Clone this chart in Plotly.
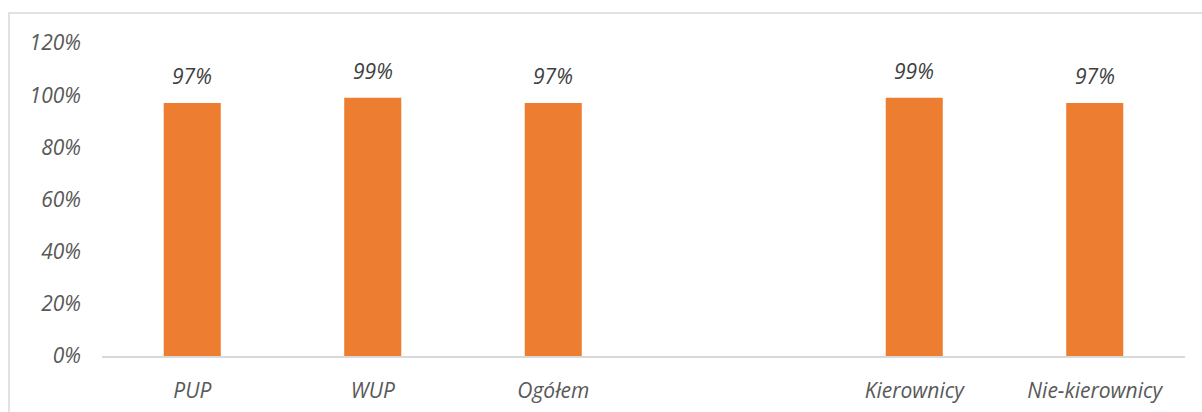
import plotly.graph_objects as go

categories = ["PUP", "WUP", "Ogółem", " ", "Kierownicy", "Nie-kierownicy"]
values = [0.97, 0.99, 0.97, None, 0.99, 0.97]
tick_vals = [0, 0.2, 0.4, 0.6, 0.8, 1.0, 1.2]

FONT = "Open Sans"
BAR = "#ED7D31"

fig = go.Figure()
fig.add_trace(go.Bar(x=categories, y=values, marker=dict(color=BAR, line=dict(width=0)),
                     hoverinfo="skip"))

for c, v in zip(categories, values):
    if v is None:
        continue
    fig.add_annotation(x=c, y=v, text=f"<i>{round(v*100)}%</i>", showarrow=False,
                       yanchor="bottom", yshift=11,
                       font=dict(family=FONT, size=21, color="#404040"))

fig.update_layout(
    width=1202, height=412,
    margin=dict(l=102, r=17, t=43, b=56, autoexpand=False),
    plot_bgcolor="white", paper_bgcolor="white",
    bargap=0.684,
    showlegend=False,
    font=dict(family=FONT, size=21, color="#595959"),
    xaxis=dict(type="category", categoryorder="array", categoryarray=categories,
               showline=True, linecolor="#D9D9D9", linewidth=2,
               showgrid=False, ticks="", zeroline=False, automargin=False,
               tickfont=dict(family=FONT, size=21, color="#595959", style="italic"),
               ticklabelstandoff=15),
    yaxis=dict(range=[0, 1.2], tickvals=tick_vals, tickformat=".0%",
               showgrid=False, zeroline=False, showline=False, ticks="", automargin=False,
               tickfont=dict(family=FONT, size=21, color="#595959", style="italic"),
               ticklabelstandoff=20),
    shapes=[dict(type="rect", xref="paper", yref="paper",
                 x0=(9-102)/1083, x1=1.2, y0=-0.5, y1=(356-13)/313,
                 line=dict(color="#D9D9D9", width=1.5), layer="below")],
)

fig.write_html("out.html")
